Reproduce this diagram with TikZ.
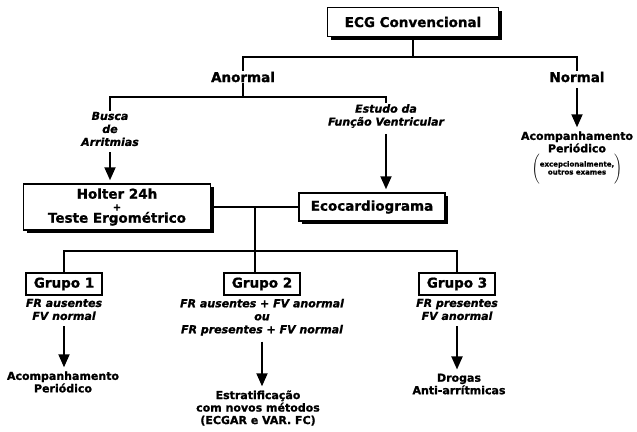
\documentclass[tikz,border=0pt]{standalone}
\usepackage{fontspec}
\setmainfont{DejaVu Sans}[BoldFeatures={FakeBold=1.2}, BoldItalicFeatures={FakeBold=1.2}]
\usepackage{tikz}
\usetikzlibrary{positioning, arrows.meta, shadows}

\begin{document}
\begin{tikzpicture}[x=1pt, y=-1pt, >={Triangle[length=13pt, width=11pt]},
    every node/.style={font=\bfseries, align=center, inner sep=1pt},
    bigbox/.style={draw, rectangle, fill=white, line width=1.5pt, drop shadow={shadow xshift=3pt, shadow yshift=-3pt, fill=black, opacity=1}, font=\fontsize{13.5}{12}\selectfont\bfseries},
    grupo/.style={draw, rectangle, fill=white, line width=1.4pt, minimum width=76pt, minimum height=22pt, font=\fontsize{13.5}{14}\selectfont\bfseries},
    branch/.style={font=\fontsize{13.5}{14}\selectfont\bfseries},
    crit/.style={font=\fontsize{11}{13}\selectfont\bfseries\itshape},
    result/.style={font=\fontsize{11}{12.5}\selectfont\bfseries},
    link/.style={line width=1.4pt},
    flow/.style={line width=1.9pt, ->, shorten <=5pt, shorten >=3pt}]

    \useasboundingbox (0,0) rectangle (637,431);

    \node [bigbox, line width=1.8pt, minimum width=171pt, minimum height=29pt] (ecg) at (413,22) {ECG Convencional};
    \node [branch] (anormal) at (243,77) {Anormal};
    \node [branch] (normal) at (577,77) {Normal};

    \node [crit] (busca) at (110,129) {Busca\\de\\Arritmias};
    \node [crit] (estudo) at (386,116) {Estudo da\\Função Ventricular};
    \node [result] (acomp) at (577,142) {Acompanhamento\\Periódico};
    \node [below=-1pt of acomp, font=\fontsize{7}{8}\selectfont\bfseries] (excep) {$\left(\vcenter{\hbox{\rule{0pt}{27pt}}}\mbox{\begin{tabular}{@{}c@{}}excepcionalmente,\\outros exames\end{tabular}}\right)$};

    \node [bigbox, minimum width=187pt, minimum height=46pt] (holter) at (117,207) {Holter 24h\\{\fontsize{10}{10}\selectfont +}\\Teste Ergométrico};
    \node [bigbox, minimum width=146pt, minimum height=28pt] (eco) at (372,207) {Ecocardiograma};

    \node [grupo] (g1) at (64,284) {Grupo 1};
    \node [grupo] (g2) at (262,284) {Grupo 2};
    \node [grupo] (g3) at (457,284) {Grupo 3};
    \node [crit, below=2pt of g1] (g1txt) {FR ausentes\\FV normal};
    \node [crit, below=2pt of g2] (g2txt) {FR ausentes + FV anormal\\ou\\FR presentes + FV normal};
    \node [crit, below=2pt of g3] (g3txt) {FR presentes\\FV anormal};

    \node [result] (res1) at (63,382) {Acompanhamento\\Periódico};
    \node [result] (res2) at (258,408) {Estratificação\\com novos métodos\\(ECGAR e VAR. FC)};
    \node [result] (res3) at (459,384) {Drogas\\Anti-arrítmicas};

    \coordinate (top) at (413,57);
    \coordinate (split) at (243,97);
    \coordinate (mid) at (255,207);
    \coordinate (low) at (255,251);

    \draw [link] (ecg) -- (top);
    \draw [link] (anormal) |- (top) -| (normal);
    \draw [link] (anormal) -- (split);
    \draw [link] (busca) |- (split) -| (estudo);
    \draw [flow] (busca) -- (busca |- holter.north);
    \draw [flow] (estudo) -- (estudo |- eco.north);
    \draw [flow] (normal) -- (acomp);
    \draw [link] (holter) -- (eco);
    \draw [link] (mid) -- (low);
    \draw [link] (g1) |- (low) -| (g3);
    \draw [link] (low) -- (low |- g2.north);
    \draw [flow] (g1txt) -- (g1txt |- res1.north);
    \draw [flow] (g2txt) -- (g2txt |- res2.north);
    \draw [flow] (g3txt) -- (g3txt |- res3.north);
\end{tikzpicture}
\end{document}
